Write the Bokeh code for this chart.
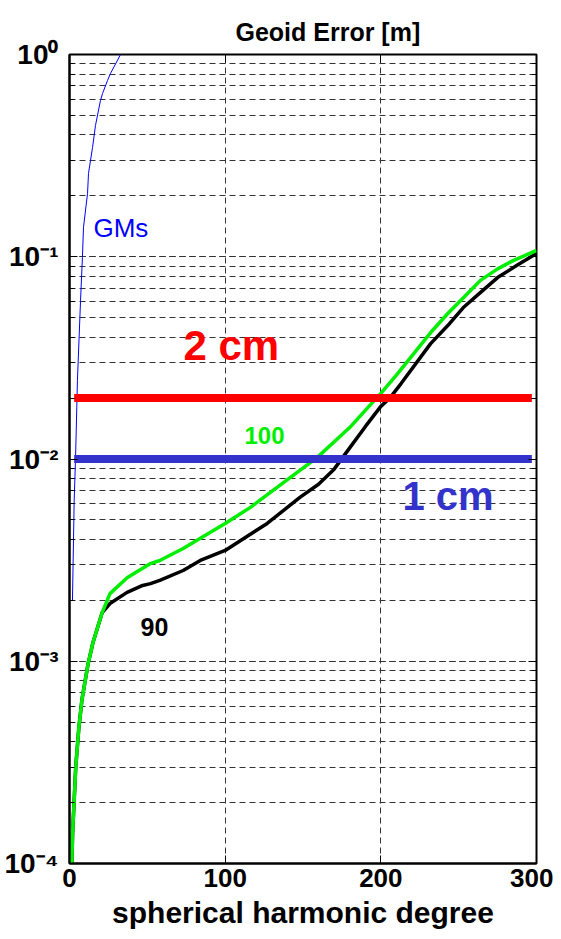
from bokeh.plotting import figure
from bokeh.models import (Range1d, FixedTicker, LogTicker, LogAxis, LinearAxis,
                          CustomJSTickFormatter)
from bokeh.core.properties import value
from bokeh.embed import file_html
from bokeh.resources import INLINE

FONT = "Liberation Sans"

# ---- data ----
deg_100 = [1.5, 2, 4, 6, 8, 12, 15, 21, 26, 37, 52, 58, 73, 100, 116, 137, 159, 180,
           190, 200, 210, 221, 232, 243, 254, 264, 275, 285, 300]
err_100 = [1.0e-4, 1.41e-4, 2.99e-4, 4.68e-4, 6.46e-4, 9.77e-4, 1.23e-3, 1.74e-3, 2.16e-3,
           2.59e-3, 3.04e-3, 3.15e-3, 3.61e-3, 4.80e-3, 5.75e-3, 7.59e-3, 1.016e-2, 1.43e-2,
           1.74e-2, 2.11e-2, 2.60e-2, 3.31e-2, 4.22e-2, 5.24e-2, 6.38e-2, 7.64e-2, 8.71e-2,
           9.57e-2, 0.1074]

deg_90 = [1.5, 2, 4, 6, 8, 12, 15, 21, 26, 37, 47, 52, 58, 73, 84, 100, 127, 148, 160,
          170, 180, 190, 200, 206, 213, 232, 243, 253, 265, 275, 288, 300]
err_90 = [1.0e-4, 1.41e-4, 2.99e-4, 4.68e-4, 6.46e-4, 9.77e-4, 1.23e-3, 1.74e-3, 1.93e-3,
          2.19e-3, 2.37e-3, 2.42e-3, 2.51e-3, 2.81e-3, 3.15e-3, 3.53e-3, 4.80e-3, 6.46e-3,
          7.50e-3, 8.91e-3, 1.135e-2, 1.445e-2, 1.82e-2, 2.01e-2, 2.36e-2, 3.72e-2, 4.57e-2,
          5.61e-2, 6.76e-2, 7.89e-2, 9.12e-2, 0.1038]

deg_gms = [1.9, 3.0, 3.9, 5.1, 7.1, 8.3, 9.0, 11.6, 12.2, 14.8, 16.7, 19.9, 21.2, 24.4,
           26.3, 32.8]
err_gms = [0.002, 0.0062, 0.0102, 0.0245, 0.061, 0.099, 0.14, 0.206, 0.258, 0.347, 0.446,
           0.593, 0.641, 0.743, 0.805, 1.0]

level_x = [3, 297]
level_2cm = 0.02
level_1cm = 0.01

x_ticks = [0, 100, 200, 300]

blank = CustomJSTickFormatter(code="return ' '")
pow10 = CustomJSTickFormatter(code="""
const sup = {"0": "\\u2070", "1": "\\u00b9", "2": "\\u00b2", "3": "\\u00b3",
             "4": "\\u2074", "5": "\\u2075", "-": "\\u207b"};
const e = Math.round(Math.log10(tick));
return "10" + String(e).split("").map(c => sup[c]).join("");
""")

# ---- figure ----
p = figure(width=553, height=931, y_axis_type="log",
           x_range=Range1d(0, 300), y_range=Range1d(1e-4, 1),
           output_backend="svg", toolbar_location=None,
           min_border_left=69, min_border_right=17, min_border_top=54,
           min_border_bottom=68)
p.background_fill_color = "white"
p.border_fill_color = "white"
p.outline_line_color = "black"
p.outline_line_width = 2

p.title.text = "Geoid Error [m]"
p.title.text_font = FONT
p.title.text_font_style = "bold"
p.title.text_font_size = "25px"
p.title.text_color = "black"
p.title.align = "left"
p.title.offset = 166
p.title.standoff = 7

# grids
p.xgrid.ticker = FixedTicker(ticks=x_ticks)
p.xgrid.grid_line_color = "#333333"
p.xgrid.grid_line_dash = "6 4"
p.xgrid.grid_line_width = 1
p.ygrid.grid_line_color = "#333333"
p.ygrid.grid_line_dash = "6 4"
p.ygrid.minor_grid_line_color = "#333333"
p.ygrid.minor_grid_line_dash = "6 4"

# x axis
xa = p.xaxis[0]
xa.ticker = FixedTicker(ticks=x_ticks, minor_ticks=[])
xa.major_tick_in = 8
xa.major_tick_out = 0
xa.axis_line_width = 2
xa.major_label_text_font = FONT
xa.major_label_text_font_style = "bold"
xa.major_label_text_font_size = "26px"
xa.major_label_text_color = "black"
xa.major_label_standoff = 5
xa.axis_label = "spherical harmonic degree"
xa.axis_label_text_font = FONT
xa.axis_label_text_font_style = "bold"
xa.axis_label_text_font_size = "30px"
xa.axis_label_text_color = "black"
xa.axis_label_standoff = 6

# y axis
ya = p.yaxis[0]
ya.ticker = LogTicker(num_minor_ticks=10)
ya.formatter = pow10
ya.major_tick_in = 8
ya.major_tick_out = 0
ya.minor_tick_in = 5
ya.minor_tick_out = 0
ya.axis_line_width = 2
ya.major_label_text_font = FONT
ya.major_label_text_font_style = "bold"
ya.major_label_text_font_size = "28px"
ya.major_label_text_color = "black"
ya.major_label_standoff = 11

# mirrored axes (ticks only)
ra = LogAxis(ticker=LogTicker(num_minor_ticks=10), formatter=blank,
             major_tick_in=8, major_tick_out=0,
             minor_tick_in=5, minor_tick_out=0,
             major_label_standoff=0, major_label_text_font_size="2px",
             axis_line_color=None)
p.add_layout(ra, "right")
ta = LinearAxis(ticker=FixedTicker(ticks=x_ticks, minor_ticks=[]), formatter=blank,
                major_tick_in=8, major_tick_out=0, major_label_standoff=0,
                major_label_text_font_size="2px", axis_line_color=None)
p.add_layout(ta, "above")

# curves
p.line(deg_gms, err_gms, line_color="#0000ff", line_width=1)
p.line(deg_90, err_90, line_color="black", line_width=3.5)
p.line(deg_100, err_100, line_color="#00ee00", line_width=3.5)

# levels
p.line(level_x, [level_2cm, level_2cm], line_color="#ff0000", line_width=8)
p.line(level_x, [level_1cm, level_1cm], line_color="#3333cc", line_width=8)

# annotations
p.text(x=[73.2], y=[0.0366], text=["2 cm"], text_color="#ff0000",
       text_font=value(FONT), text_font_style="bold", text_font_size="42px",
       text_baseline="middle")
p.text(x=[213.9], y=[0.00653], text=["1 cm"], text_color="#3333cc",
       text_font=value(FONT), text_font_style="bold", text_font_size="40px",
       text_baseline="middle")
p.text(x=[112.4], y=[0.01314], text=["100"], text_color="#00ee00",
       text_font=value(FONT), text_font_style="bold", text_font_size="24px",
       text_baseline="middle")
p.text(x=[45.6], y=[0.001469], text=["90"], text_color="black",
       text_font=value(FONT), text_font_style="bold", text_font_size="25px",
       text_baseline="middle")
p.text(x=[15.4], y=[0.1387], text=["GMs"], text_color="#0000ff",
       text_font=value(FONT), text_font_style="normal", text_font_size="26px",
       text_baseline="middle")

open("out.html", "w").write(file_html(p, INLINE))
